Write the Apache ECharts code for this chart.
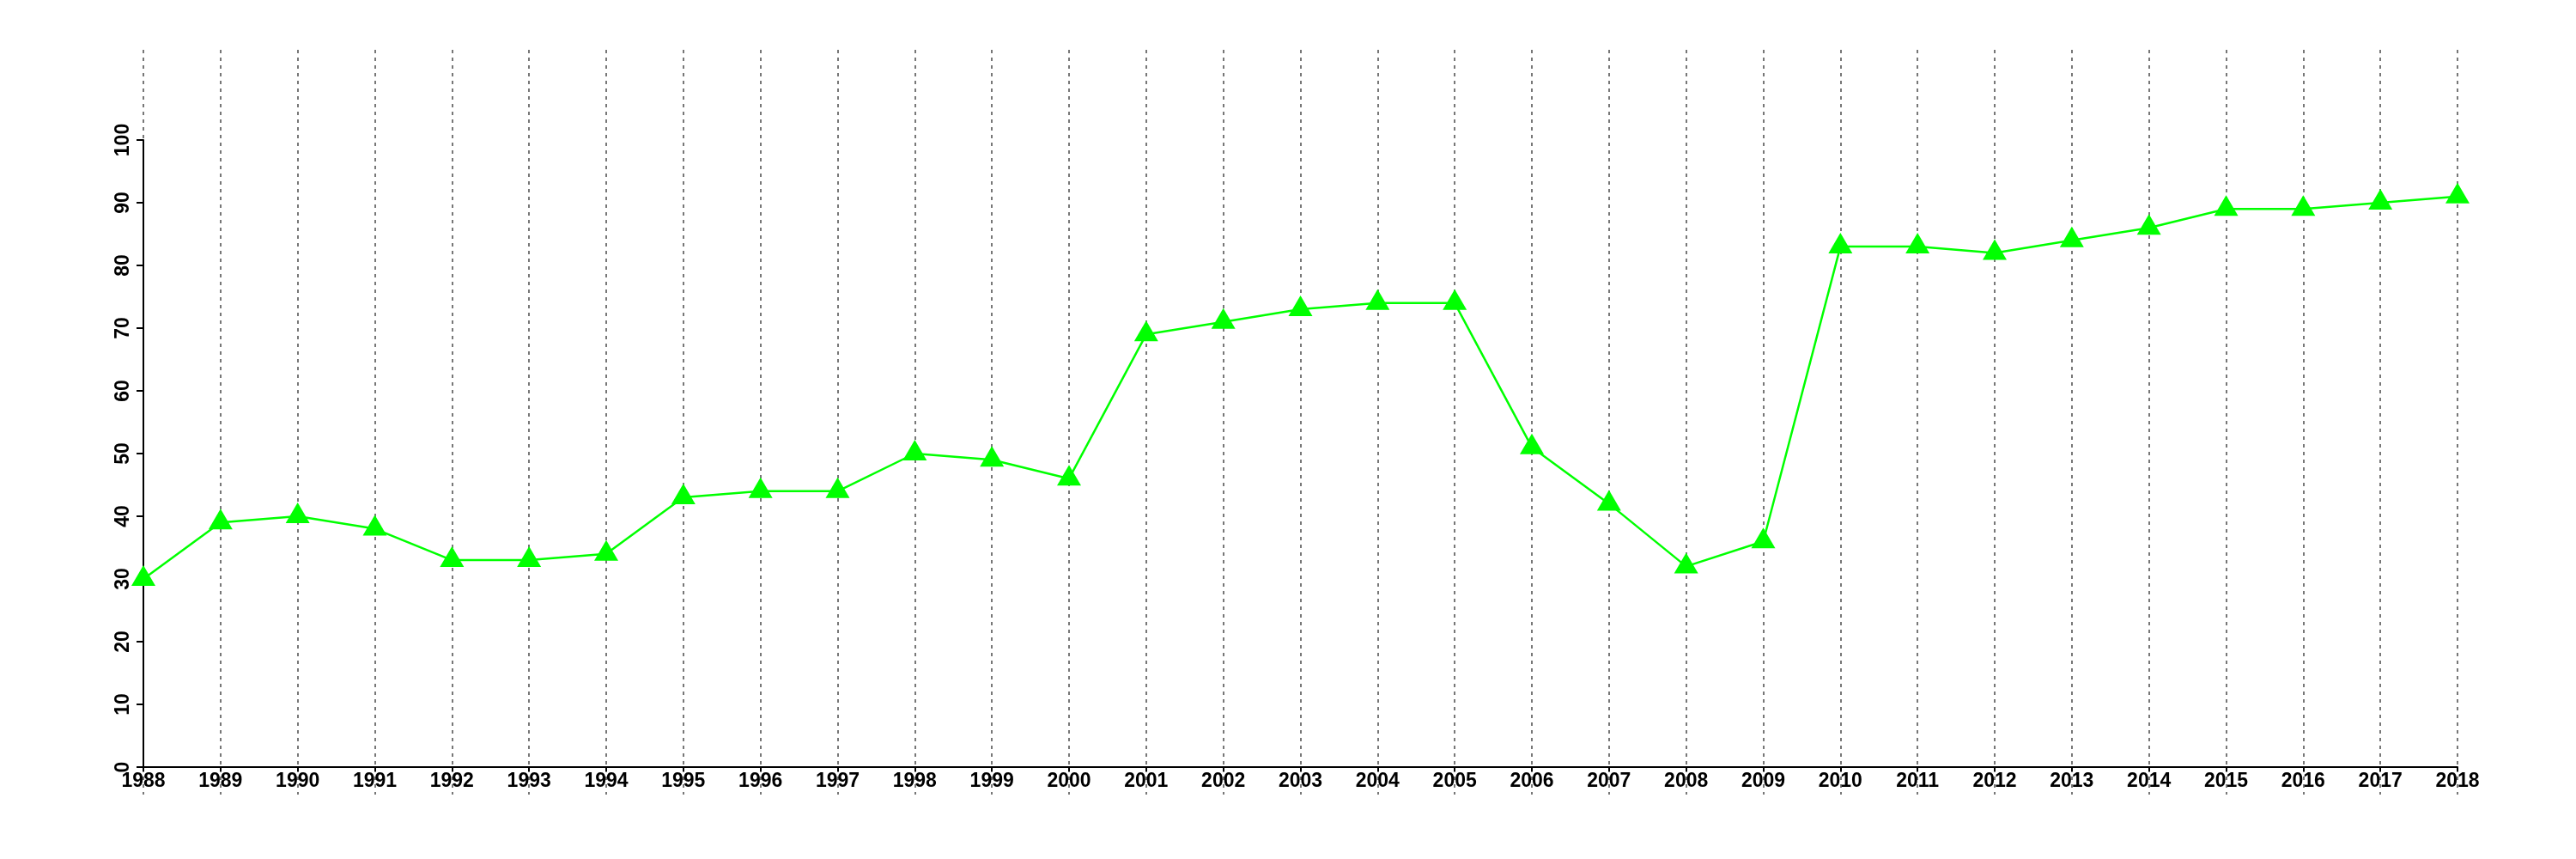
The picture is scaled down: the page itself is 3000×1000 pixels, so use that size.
<!DOCTYPE html>
<html>
<head>
<meta charset="utf-8">
<script src="https://cdn.jsdelivr.net/npm/echarts@6/dist/echarts.min.js"></script>
<style>
html,body{margin:0;padding:0;background:#fff;}
#c{width:3000px;height:1000px;}
</style>
</head>
<body>
<div id="c"></div>
<script>
var years = [1988,1989,1990,1991,1992,1993,1994,1995,1996,1997,1998,1999,2000,2001,2002,2003,2004,2005,2006,2007,2008,2009,2010,2011,2012,2013,2014,2015,2016,2017,2018];
var values = [30,39,40,38,33,33,34,43,44,44,50,49,46,69,71,73,74,74,51,42,32,36,83,83,82,84,86,89,89,90,91];
var yTicks = [0,10,20,30,40,50,60,70,80,90,100];

var font = 'Liberation Sans, Arial, Helvetica, sans-serif';
var chart = echarts.init(document.getElementById('c'), null, {renderer:'canvas'});
var pts = years.map(function(y,i){return [y, values[i]];});

chart.setOption({
  animation:false,
  backgroundColor:'#ffffff',
  grid:[
    {left:167, right:138, top:163, bottom:107},
    {left:167, right:138, top:58, bottom:75}
  ],
  xAxis:[
    {gridIndex:0, type:'value', min:years[0], max:years[years.length-1], interval:1,
     axisLine:{show:true, onZero:false, lineStyle:{color:'#000', width:2}},
     axisTick:{show:true, length:5, lineStyle:{color:'#000', width:2}},
     axisLabel:{show:true, color:'#000', fontFamily:font, fontWeight:'bold', fontSize:23, margin:5,
       formatter:function(v){return String(v);}},
     splitLine:{show:false}},
    {gridIndex:1, type:'value', min:years[0], max:years[years.length-1], interval:1,
     axisLine:{show:false}, axisTick:{show:false}, axisLabel:{show:false},
     splitLine:{show:true, lineStyle:{color:'#777777', width:2, type:[4,5]}}}
  ],
  yAxis:[
    {gridIndex:0, type:'value', min:yTicks[0], max:yTicks[yTicks.length-1], interval:10,
     axisLine:{show:true, onZero:false, lineStyle:{color:'#000', width:2}},
     axisTick:{show:true, length:8, lineStyle:{color:'#000', width:2}},
     axisLabel:{show:true, color:'#000', fontFamily:font, fontWeight:'bold', fontSize:23, rotate:90, margin:12},
     splitLine:{show:false}},
    {gridIndex:1, type:'value', min:-4.4, max:114.4,
     axisLine:{show:false}, axisTick:{show:false}, axisLabel:{show:false}, splitLine:{show:false}}
  ],
  series:[{
    type:'line', xAxisIndex:0, yAxisIndex:0, data:pts,
    lineStyle:{color:'#00ff00', width:2.5},
    itemStyle:{color:'#00ff00'},
    symbol:'triangle', symbolSize:[28,24], symbolOffset:[0,-4],
    z:5
  }]
});
</script>
</body>
</html>
